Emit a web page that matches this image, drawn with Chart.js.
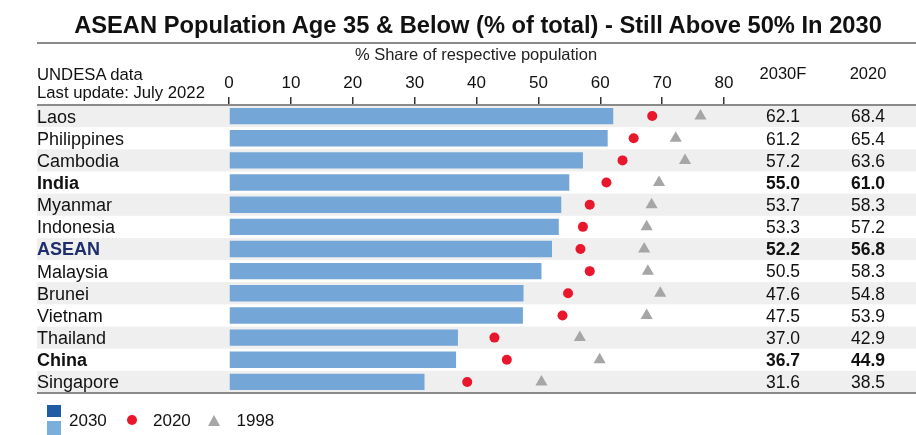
<!DOCTYPE html>
<html>
<head>
<meta charset="utf-8">
<script src="https://cdn.jsdelivr.net/npm/chart.js@4.4.1/dist/chart.umd.min.js"></script>
<style>
  html, body { margin:0; padding:0; background:#fff; }
  #wrap { position:relative; width:916px; height:435px; overflow:hidden; font-family:"Liberation Sans", Arial, sans-serif; color:#111; }
  #chartBox { position:absolute; left:0; top:0; width:916px; height:435px; }
  .t { position:absolute; white-space:nowrap; line-height:1; }
  #title { left:0; width:956px; text-align:center; top:14px; font-size:23.7px; font-weight:bold; }
  #sub { left:0; width:952px; text-align:center; top:46px; font-size:16.5px; color:#222; }
  .note { left:37px; font-size:16.7px; }
  .hdr { font-size:16.5px; width:80px; text-align:center; top:65px; }
  .leg { font-size:17px; top:412px; }
  .sq { position:absolute; width:14px; height:12px; }
  .dot { position:absolute; width:10px; height:10px; border-radius:50%; background:#e8172c; }
  .tri { position:absolute; width:0; height:0; border-left:6.5px solid transparent; border-right:6.5px solid transparent; border-bottom:11px solid #a6a6a6; }
</style>
</head>
<body>
<div id="wrap">
  <div id="chartBox"><canvas id="c"></canvas></div>
  <div class="t" id="title">ASEAN Population Age 35 &amp; Below (% of total) - Still Above 50% In 2030</div>
  <div class="t" id="sub">% Share of respective population</div>
  <div class="t note" style="top:66.5px">UNDESA data</div>
  <div class="t note" style="top:85px">Last update: July 2022</div>
  <div class="t hdr" style="left:743px">2030F</div>
  <div class="t hdr" style="left:828px">2020</div>
  <div class="sq" style="left:47px; top:405px; background:#1f5ca6"></div>
  <div class="sq" style="left:47px; top:421px; height:14px; background:#7aaedb"></div>
  <div class="t leg" style="left:69px">2030</div>
  <div class="dot" style="left:127px; top:415px"></div>
  <div class="t leg" style="left:153px">2020</div>
  <div class="tri" style="left:208px; top:414.5px"></div>
  <div class="t leg" style="left:236.5px">1998</div>
</div>
<script>
const countries = ['Laos','Philippines','Cambodia','India','Myanmar','Indonesia','ASEAN','Malaysia','Brunei','Vietnam','Thailand','China','Singapore'];
const v2030 = [62.1, 61.2, 57.2, 55.0, 53.7, 53.3, 52.2, 50.5, 47.6, 47.5, 37.0, 36.7, 31.6];
const v2020 = [68.4, 65.4, 63.6, 61.0, 58.3, 57.2, 56.8, 58.3, 54.8, 53.9, 42.9, 44.9, 38.5];
const v1998 = [76.2, 72.2, 73.7, 69.5, 68.3, 67.5, 67.1, 67.7, 69.7, 67.5, 56.7, 59.9, 50.5];
const boldRows = ['India', 'ASEAN', 'China'];
const xTicks = [0, 10, 20, 30, 40, 50, 60, 70, 80];

const FONT = '"Liberation Sans", Arial, sans-serif';

const decor = {
  id: 'decor',
  beforeDraw(chart) {
    const ctx = chart.ctx, y = chart.scales.y;
    const half = (y.getPixelForValue(1) - y.getPixelForValue(0)) / 2;
    ctx.save();
    ctx.fillStyle = '#efefef';
    countries.forEach((c, i) => {
      if (i % 2 === 0) {
        const cy = y.getPixelForValue(i);
        ctx.fillRect(37, cy - half, 916 - 37, half * 2);
      }
    });
    ctx.restore();
  },
  afterDraw(chart) {
    const ctx = chart.ctx, y = chart.scales.y, area = chart.chartArea;
    ctx.save();
    ctx.strokeStyle = '#8a8a8a';
    ctx.lineWidth = 2;
    [43, area.top, area.bottom].forEach(py => {
      ctx.beginPath(); ctx.moveTo(37, py); ctx.lineTo(916, py); ctx.stroke();
    });
    ctx.fillStyle = '#111';
    ctx.textAlign = 'center';
    ctx.textBaseline = 'middle';
    countries.forEach((c, i) => {
      const cy = y.getPixelForValue(i) + 1.5;
      const b = boldRows.includes(c);
      ctx.font = (b ? 'bold ' : '') + '17.5px ' + FONT;
      ctx.fillText(v2030[i].toFixed(1), 783, cy);
      ctx.fillText(v2020[i].toFixed(1), 868, cy);
    });
    ctx.restore();
  }
};

new Chart(document.getElementById('c'), {
  type: 'bar',
  data: {
    labels: countries,
    datasets: [
      { label: '2030', data: v2030, backgroundColor: '#74a7d7', borderWidth: 0,
        barPercentage: 0.74, categoryPercentage: 1, order: 3 },
      { type: 'line', label: '2020', data: v2020, indexAxis: 'y', showLine: false,
        pointStyle: 'circle', pointRadius: 5, pointBackgroundColor: '#e8172c',
        pointBorderWidth: 0, order: 1 },
      { type: 'line', label: '1998', data: v1998, indexAxis: 'y', showLine: false,
        pointStyle: 'triangle', pointRadius: 7, pointBackgroundColor: '#a6a6a6',
        pointBorderWidth: 0, order: 2 }
    ]
  },
  options: {
    indexAxis: 'y',
    responsive: true,
    maintainAspectRatio: false,
    animation: false,
    layout: { padding: { left: 37, right: 192, top: 65, bottom: 42 } },
    plugins: { legend: { display: false }, tooltip: { enabled: false }, title: { display: false } },
    scales: {
      x: {
        position: 'top', min: 0, max: 80,
        afterFit(s) { s.height = 40; },
        afterBuildTicks(s) { s.ticks = xTicks.map(v => ({ value: v })); },
        ticks: { font: { family: FONT, size: 17 }, color: '#111', padding: 3 },
        grid: { drawOnChartArea: false, drawTicks: true, tickLength: 8, color: '#333', lineWidth: 1.5 },
        border: { display: false }
      },
      y: {
        type: 'category', offset: true,
        afterFit(s) { s.width = 192; },
        ticks: {
          autoSkip: false,
          crossAlign: 'far',
          labelOffset: 1.5,
          font: (ctx) => ({ family: FONT, size: 18, lineHeight: 1.1,
            weight: boldRows.includes(countries[ctx.index]) ? 'bold' : 'normal' }),
          color: (ctx) => countries[ctx.index] === 'ASEAN' ? '#1e2d6d' : '#111'
        },
        grid: { display: false },
        border: { display: false }
      }
    }
  },
  plugins: [decor]
});
</script>
</body>
</html>
